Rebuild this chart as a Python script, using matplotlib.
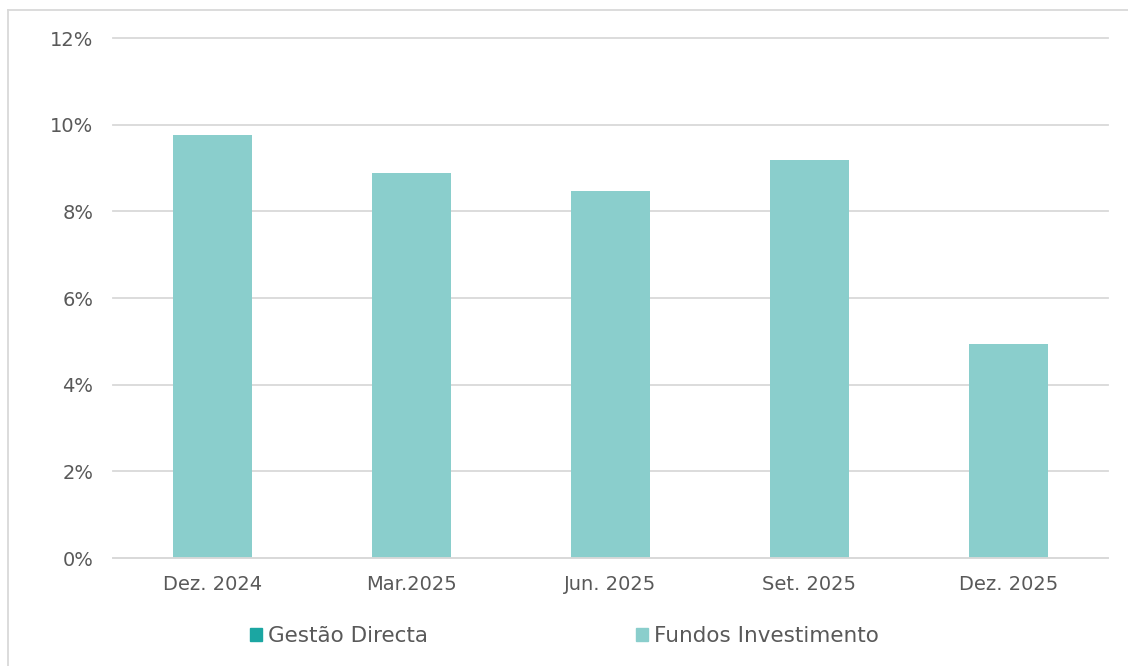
import matplotlib
matplotlib.use("Agg")
import matplotlib.pyplot as plt
from matplotlib.patches import Patch
from matplotlib.lines import Line2D
from matplotlib.ticker import FuncFormatter

periods = ["Dez. 2024", "Mar.2025", "Jun. 2025", "Set. 2025", "Dez. 2025"]
gestao_directa = [0.0, 0.0, 0.0, 0.0, 0.0]
fundos_investimento = [9.76, 8.88, 8.47, 9.18, 4.94]

col_gestao = "#1BA6A2"
col_fundos = "#8ACECC"
text_col = "#595959"
grid_col = "#D9D9D9"

plt.rcParams["font.family"] = ["DejaVu Sans"]

fig = plt.figure(figsize=(11.28, 6.66), dpi=100)
ax = fig.add_axes([113 / 1128, 108 / 666, 995 / 1128, 520 / 666])

x = range(len(periods))
ax.bar(x, gestao_directa, width=0.4, color=col_gestao)
ax.bar(x, fundos_investimento, width=0.4, bottom=gestao_directa, color=col_fundos)

ax.set_xlim(-0.5, len(periods) - 0.5)
ax.set_ylim(0, 12)
ax.set_yticks(range(0, 13, 2))
ax.yaxis.set_major_formatter(FuncFormatter(lambda v, p: f"{v:.0f}%"))
ax.set_xticks(list(x))
ax.set_xticklabels(periods)

ax.grid(axis="y", color=grid_col, linewidth=1.3)
for gl in ax.get_ygridlines():
    gl.set_clip_on(False)
ax.set_axisbelow(True)
for s in ["top", "right", "left"]:
    ax.spines[s].set_visible(False)
ax.spines["bottom"].set_color(grid_col)
ax.spines["bottom"].set_linewidth(1.3)
ax.tick_params(axis="both", length=0, labelsize=14, colors=text_col)
ax.tick_params(axis="y", pad=14)
ax.tick_params(axis="x", pad=12)

# legend along the bottom, one box per series
legend_items = [(col_gestao, "Gestão Directa", 250), (col_fundos, "Fundos Investimento", 636)]
for color, label, xpos in legend_items:
    fig.legend(handles=[Patch(color=color, label=label)], loc="center left",
               bbox_to_anchor=(xpos / 1128, 1 - 636 / 666),
               frameon=False, fontsize=15.5, labelcolor=text_col,
               handlelength=0.55, handleheight=0.55, handletextpad=0.3,
               borderpad=0, borderaxespad=0)

# outer frame (top and left edges only)
fig.add_artist(Line2D([8 / 1128, 1], [1 - 10 / 666, 1 - 10 / 666],
                      transform=fig.transFigure, color=grid_col, linewidth=1.3))
fig.add_artist(Line2D([8 / 1128, 8 / 1128], [0, 1 - 10 / 666],
                      transform=fig.transFigure, color=grid_col, linewidth=1.3))

fig.savefig("out.png", dpi=100, facecolor="white")
